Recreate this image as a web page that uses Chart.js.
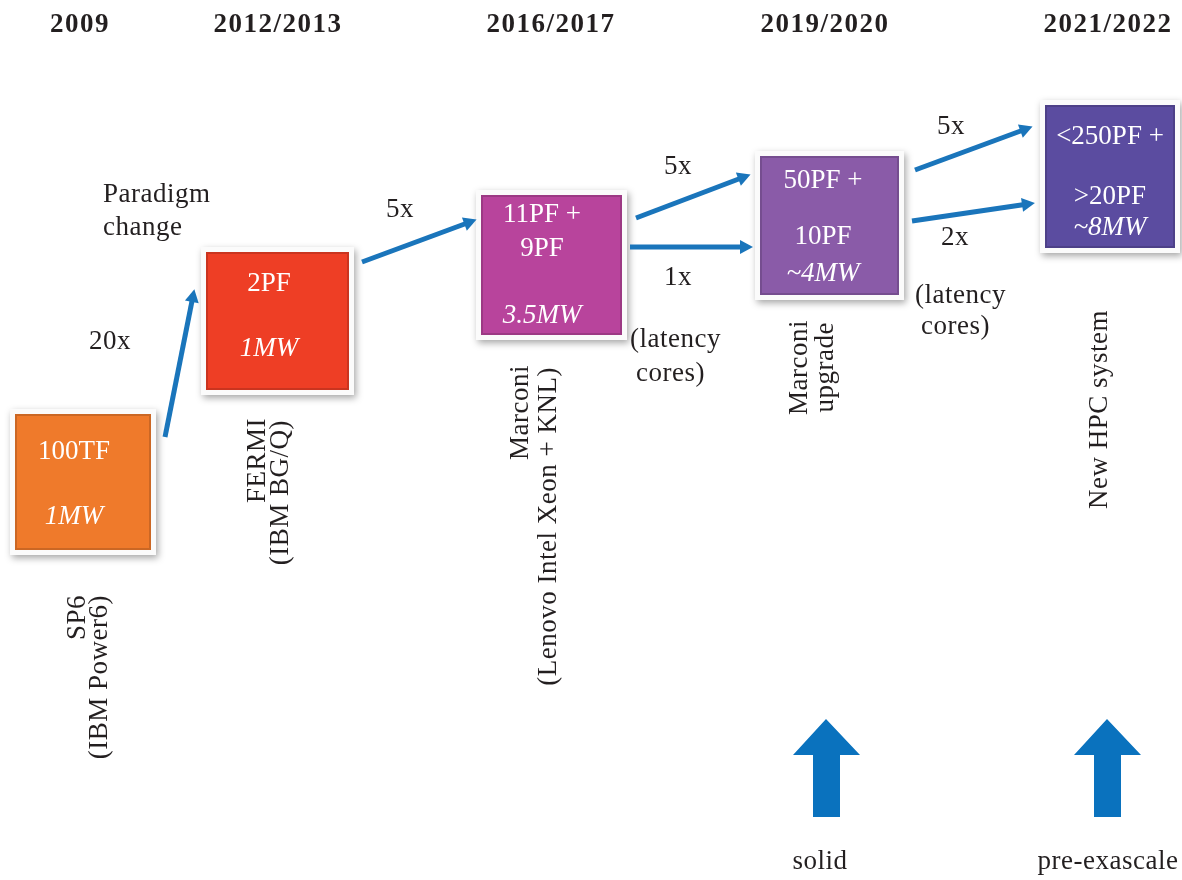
<!DOCTYPE html>
<html>
<head>
<meta charset="utf-8">
<script src="https://cdn.jsdelivr.net/npm/chart.js@4"></script>
<style>
  html, body { margin: 0; padding: 0; background: #fff; }
  canvas { display: block; }
</style>
</head>
<body>
<canvas id="roadmap" width="1182" height="880"></canvas>
<script>
// --- DATA ---
const years = ['2009', '2012/2013', '2016/2017', '2019/2020', '2021/2022'];
const systemNames = [
  ['SP6', '(IBM Power6)'],
  ['FERMI', '(IBM BG/Q)'],
  ['Marconi', '(Lenovo Intel Xeon + KNL)'],
  ['Marconi', 'upgrade'],
  ['New HPC system']
];
const peakPerf = [['100TF'], ['2PF'], ['11PF +', '9PF'], ['50PF +', '10PF'], ['<250PF +', '>20PF']];
const power = ['1MW', '1MW', '3.5MW', '~4MW', '~8MW'];
const growth = ['20x', '5x', '5x', '1x', '5x', '2x'];
const bigArrowLabels = ['solid', 'pre-exascale'];

// --- LAYOUT (diagram units, same size as the canvas, y counted from the top) ---
const boxRects = [[10, 409, 156, 555], [201, 247, 354, 395], [476, 190, 627, 340], [755, 151, 904, 300], [1040, 100, 1180, 253]];
const boxColors = ['#ef7a2b', '#ee3e25', '#b8449c', '#8a5ba8', '#5b4ca0'];
const textX = [74, 269, 542, 823, 1110];
const perfY = [[452], [284], [215, 249], [181, 237], [137, 197]];
const powerY = [517, 349, 316, 274, 228];
const yearX = [80, 278, 551, 825, 1108];
const arrowSegs = [[165, 437, 193, 296], [362, 262, 470, 222], [636, 218, 744, 177], [630, 247, 746, 247], [915, 170, 1026, 129], [912, 221, 1028, 204]];
const growthPos = [[110, 342], [400, 210], [678, 167], [678, 278], [951, 127], [955, 238]];
const namePos = [[[78, 595], [100, 595]], [[258, 418], [281, 420]], [[521, 365], [549, 367]], [[800, 320], [826, 322]], [[1100, 310]]];
const bigArrowX = [826, 1107];

const SERIF = '"Liberation Serif", "DejaVu Serif", serif';
const BLUE = '#1a75bb';

// the small arrows are plain line datasets
const arrowDatasets = arrowSegs.map(s => ({
  data: [{ x: s[0], y: s[1] }, { x: s[2], y: s[3] }],
  showLine: true,
  borderColor: BLUE,
  borderWidth: 5,
  pointRadius: 0,
  borderCapStyle: 'butt'
}));

const diagramPlugin = {
  id: 'diagram',
  beforeDatasetsDraw(chart) {
    const { ctx, scales } = chart;
    const px = v => scales.x.getPixelForValue(v);
    const py = v => scales.y.getPixelForValue(v);

    // boxes
    boxRects.forEach((r, i) => {
      const x1 = px(r[0]), y1 = py(r[1]), x2 = px(r[2]), y2 = py(r[3]);
      ctx.save();
      ctx.shadowColor = 'rgba(0,0,0,0.35)';
      ctx.shadowBlur = 7;
      ctx.shadowOffsetX = 2;
      ctx.shadowOffsetY = 3;
      ctx.fillStyle = '#fbfbfb';
      ctx.fillRect(x1, y1, x2 - x1, y2 - y1);
      ctx.restore();
      ctx.fillStyle = boxColors[i];
      ctx.fillRect(x1 + 5, y1 + 5, x2 - x1 - 10, y2 - y1 - 10);
      ctx.strokeStyle = 'rgba(0,0,0,0.15)';
      ctx.lineWidth = 2;
      ctx.strokeRect(x1 + 6, y1 + 6, x2 - x1 - 12, y2 - y1 - 12);
    });
  },
  afterDatasetsDraw(chart) {
    const { ctx, scales } = chart;
    const px = v => scales.x.getPixelForValue(v);
    const py = v => scales.y.getPixelForValue(v);

    // arrow heads on the line datasets
    chart.data.datasets.forEach((ds, i) => {
      const pts = chart.getDatasetMeta(i).data;
      const a = pts[0], b = pts[1];
      const ang = Math.atan2(b.y - a.y, b.x - a.x);
      const tipX = b.x + 7 * Math.cos(ang), tipY = b.y + 7 * Math.sin(ang);
      ctx.save();
      ctx.translate(tipX, tipY);
      ctx.rotate(ang);
      ctx.fillStyle = BLUE;
      ctx.beginPath();
      ctx.moveTo(0, 0);
      ctx.lineTo(-13, -7);
      ctx.lineTo(-13, 7);
      ctx.closePath();
      ctx.fill();
      ctx.restore();
    });

    ctx.textBaseline = 'middle';

    // year headers
    ctx.fillStyle = '#231f20';
    ctx.font = 'bold 27px ' + SERIF;
    ctx.letterSpacing = '1.5px';
    ctx.textAlign = 'center';
    years.forEach((y, i) => ctx.fillText(y, px(yearX[i]), py(25)));
    ctx.letterSpacing = '0px';

    // box texts
    ctx.fillStyle = '#ffffff';
    boxRects.forEach((r, i) => {
      const cx = px(textX[i]);
      ctx.font = '27px ' + SERIF;
      peakPerf[i].forEach((t, k) => ctx.fillText(t, cx, py(perfY[i][k])));
      ctx.font = 'italic 27px ' + SERIF;
      ctx.fillText(power[i], cx, py(powerY[i]));
    });

    // growth factors and notes
    ctx.fillStyle = '#231f20';
    ctx.font = '27px ' + SERIF;
    ctx.letterSpacing = '0.5px';
    growth.forEach((g, i) => ctx.fillText(g, px(growthPos[i][0]), py(growthPos[i][1])));
    ctx.textAlign = 'left';
    ctx.fillText('Paradigm', px(103), py(195));
    ctx.fillText('change', px(103), py(228));
    ctx.fillText('(latency', px(630), py(340));
    ctx.fillText('cores)', px(636), py(374));
    ctx.fillText('(latency', px(915), py(296));
    ctx.fillText('cores)', px(921), py(327));

    // rotated system names
    ctx.textAlign = 'right';
    systemNames.forEach((lines, i) => {
      lines.forEach((t, k) => {
        const p = namePos[i][k];
        ctx.save();
        ctx.translate(px(p[0]), py(p[1]));
        ctx.rotate(-Math.PI / 2);
        ctx.fillText(t, 0, 0);
        ctx.restore();
      });
    });

    // big up arrows
    ctx.fillStyle = '#0a72be';
    bigArrowX.forEach(x => {
      ctx.beginPath();
      ctx.moveTo(px(x), py(719));
      ctx.lineTo(px(x + 34), py(755));
      ctx.lineTo(px(x + 14), py(755));
      ctx.lineTo(px(x + 14), py(817));
      ctx.lineTo(px(x - 13), py(817));
      ctx.lineTo(px(x - 13), py(755));
      ctx.lineTo(px(x - 33), py(755));
      ctx.closePath();
      ctx.fill();
    });
    ctx.fillStyle = '#231f20';
    ctx.textAlign = 'center';
    ctx.fillText(bigArrowLabels[0], px(820), py(862));
    ctx.fillText(bigArrowLabels[1], px(1108), py(862));
    ctx.letterSpacing = '0px';
  }
};

new Chart(document.getElementById('roadmap').getContext('2d'), {
  type: 'scatter',
  data: { datasets: arrowDatasets },
  options: {
    responsive: false,
    animation: false,
    layout: { padding: 0 },
    scales: {
      x: { type: 'linear', min: 0, max: 1182, display: false },
      y: { type: 'linear', min: 0, max: 880, reverse: true, display: false }
    },
    plugins: { legend: { display: false }, tooltip: { enabled: false } }
  },
  plugins: [diagramPlugin]
});
</script>
</body>
</html>
